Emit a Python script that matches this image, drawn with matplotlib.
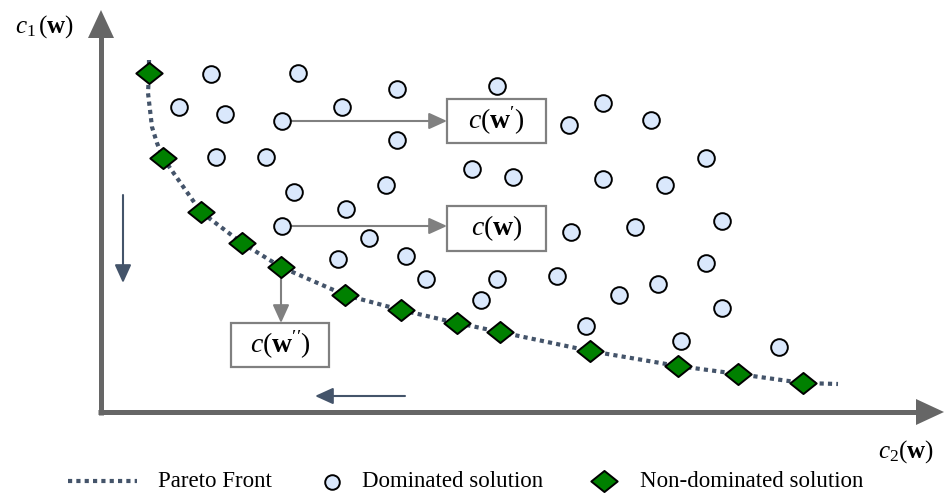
import numpy as np
import matplotlib.pyplot as plt
from matplotlib.path import Path

plt.rcParams['mathtext.fontset'] = 'custom'
plt.rcParams['mathtext.rm'] = 'Liberation Serif'
plt.rcParams['mathtext.it'] = 'Liberation Serif:italic'
plt.rcParams['mathtext.bf'] = 'Liberation Serif:bold'
plt.rcParams['font.family'] = ['Liberation Serif', 'DejaVu Serif']

# dominated solutions (c2, c1), pixel space
dom_x = [211, 298, 179, 225, 282, 342, 397, 497, 397, 216, 266, 569, 603, 651,
         472, 513, 603, 665, 706, 294, 386, 346, 282, 369, 338, 406, 426, 497,
         481, 557, 571, 635, 722, 706, 658, 619, 722, 586, 681, 779]
dom_y = [74, 73, 107, 114, 121, 107, 89, 86, 140, 157, 157, 125, 103, 120,
         169, 177, 179, 185, 158, 192, 185, 209, 226, 238, 259, 256, 279, 279,
         300, 276, 232, 227, 221, 263, 284, 295, 308, 326, 341, 347]

# non-dominated solutions
nd_x = [149, 163, 201, 242, 281, 345, 401, 457, 500, 590, 678, 738, 803]
nd_y = [73, 158, 212, 243, 267, 295, 310, 323, 332, 351, 366, 374, 383]

# pareto front trace
pf_x = [149, 149, 148, 152, 157, 163, 201, 242, 281, 345, 401, 457, 500, 590, 678, 738, 803, 838]
pf_y = [60, 73, 93, 127, 143, 158, 212, 243, 267, 295, 310, 323, 332, 351, 366, 374, 383, 384]

W, H = 946, 494
fig = plt.figure(figsize=(W / 100, H / 100), dpi=100)
ax = fig.add_axes([0, 0, 1, 1])
ax.set_xlim(0, W)
ax.set_ylim(H, 0)
ax.axis('off')

axis_col = '#666666'
front_col = '#44546A'
grey = '#808080'
diamond = Path([(-1, 0), (0, 0.8), (1, 0), (0, -0.8), (-1, 0)],
               [Path.MOVETO, Path.LINETO, Path.LINETO, Path.LINETO, Path.CLOSEPOLY])

# axes with arrow heads
ax.plot([101, 101], [415, 34], color=axis_col, lw=3.6, solid_capstyle='butt')
ax.fill([88, 114, 101], [38, 38, 10], color=axis_col, lw=0)
ax.plot([98, 920], [412, 412], color=axis_col, lw=3.6, solid_capstyle='butt')
ax.fill([916, 916, 944], [399, 425, 412], color=axis_col, lw=0)

ax.text(15, 27, r'$c_{\mathit{1}}\,(\mathbf{w})$', fontsize=18, va='center', ha='left')
ax.text(934, 452, r'$c_{\mathit{2}}(\mathbf{w})$', fontsize=18, va='center', ha='right')

head = '-|>,head_length=1.1,head_width=0.5'
# direction arrows
ax.annotate('', xy=(123, 283), xytext=(123, 195),
            arrowprops=dict(arrowstyle=head, lw=1.5, color=front_col, shrinkA=0, shrinkB=0))
ax.annotate('', xy=(315, 396), xytext=(405, 396),
            arrowprops=dict(arrowstyle=head, lw=1.5, color=front_col, shrinkA=0, shrinkB=0))

# pareto front
ax.plot(pf_x, pf_y, color=front_col, lw=3, linestyle=(0, (1, 1)), zorder=2)

# pointer arrows + boxes
for (x0, y0, x1, y1) in [(282, 121, 447, 121), (282, 226, 447, 226), (281, 267, 281, 323)]:
    ax.annotate('', xy=(x1, y1), xytext=(x0, y0),
                arrowprops=dict(arrowstyle=head, lw=1.5, color=grey, shrinkA=0, shrinkB=0),
                zorder=1)

boxes = [(447, 99, 546, 143, r"$c(\mathbf{w}')$"),
         (447, 206, 546, 251, r'$c(\mathbf{w})$'),
         (231, 323, 329, 367, r"$c(\mathbf{w}'')$")]
for x0, y0, x1, y1, lab in boxes:
    ax.add_patch(plt.Rectangle((x0, y0), x1 - x0, y1 - y0, fc='white', ec=grey, lw=1.6, zorder=4))
    ax.text((x0 + x1) / 2, (y0 + y1) / 2, lab, fontsize=20, ha='center', va='center', zorder=5)

ax.plot(dom_x, dom_y, 'o', ms=12, mfc='#DAE8FC', mec='black', mew=1.4, zorder=3)
ax.plot(nd_x, nd_y, marker=diamond, ls='none', ms=19, mfc='#008000', mec='black', mew=1.4, zorder=3)

# legend
ax.plot([68, 137], [481, 481], color=front_col, lw=3, linestyle=(0, (1, 1)))
ax.text(158, 481, 'Pareto Front', fontsize=16.5, va='center')
ax.plot([332], [482], 'o', ms=10.5, mfc='#DAE8FC', mec='black', mew=1.4)
ax.text(362, 481, 'Dominated solution', fontsize=16.5, va='center')
ax.plot([604], [481], marker=diamond, ls='none', ms=19, mfc='#008000', mec='black', mew=1.4)
ax.text(640, 481, 'Non-dominated solution', fontsize=16.5, va='center')

fig.savefig('out.png', dpi=100)
